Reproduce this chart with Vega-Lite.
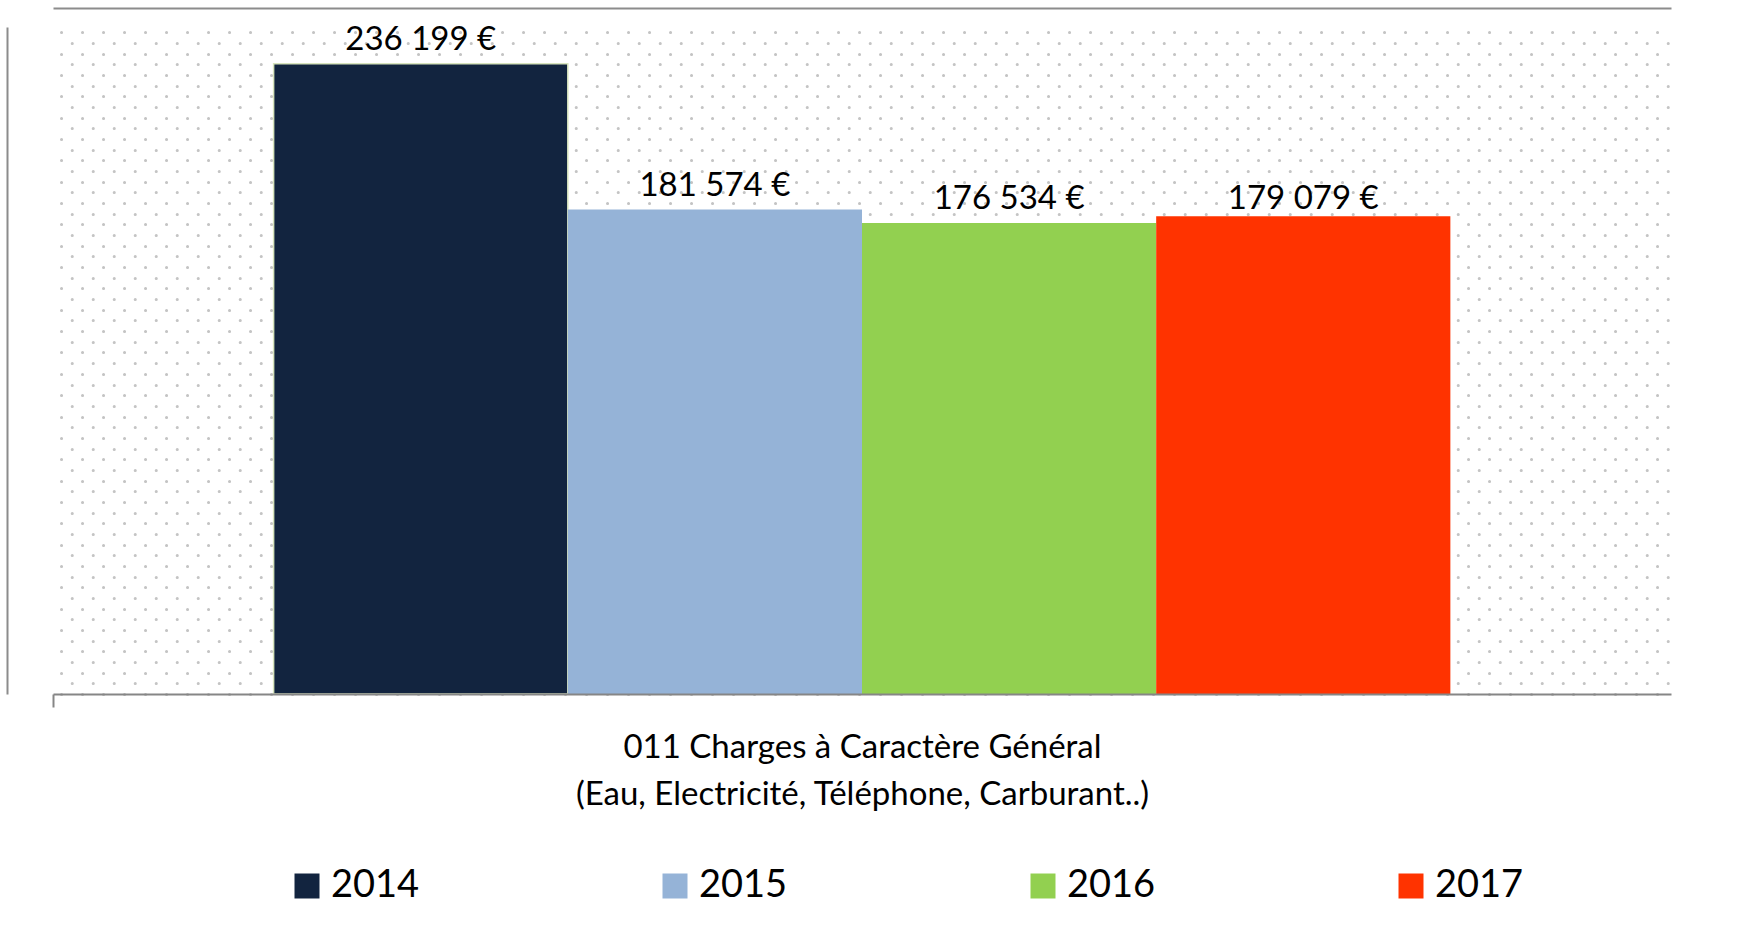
{
  "$schema": "https://vega.github.io/schema/vega-lite/v6.json",
  "width": 1618,
  "height": 667,
  "autosize": {"type": "none"},
  "padding": {"left": 53, "top": 27, "right": 71, "bottom": 243},
  "background": "white",
  "config": {
    "font": "Lato",
    "view": {"stroke": null},
    "locale": {"number": {"decimal": ",", "thousands": " ", "grouping": [3], "currency": ["", " €"]}}
  },
  "data": {
    "values": [
      {"categorie": "011 Charges à Caractère Général", "annee": "2014", "montant": 236199},
      {"categorie": "011 Charges à Caractère Général", "annee": "2015", "montant": 181574},
      {"categorie": "011 Charges à Caractère Général", "annee": "2016", "montant": 176534},
      {"categorie": "011 Charges à Caractère Général", "annee": "2017", "montant": 179079}
    ]
  },
  "layer": [
    {
      "mark": {"type": "bar", "strokeWidth": 1.5},
      "encoding": {
        "x": {
          "field": "categorie", "type": "nominal",
          "scale": {"paddingInner": 0, "paddingOuter": 0},
          "axis": {
            "orient": "bottom", "labels": false, "ticks": true, "tickSize": 13, "tickColor": "#868686", "tickWidth": 2,
            "bandPosition": 0, "domainColor": "#868686", "domainWidth": 2, "grid": false, "zindex": 1,
            "title": ["011 Charges à Caractère Général", "(Eau, Electricité, Téléphone, Carburant..)"],
            "titleFontSize": 33, "titleFontWeight": "normal", "titleColor": "black", "titleLineHeight": 47, "titlePadding": 23, "titleFont": "Lato"
          }
        },
        "xOffset": {
          "field": "annee", "type": "nominal", "sort": ["2014", "2015", "2016", "2017"],
          "scale": {"paddingInner": 0, "paddingOuter": 0.75}
        },
        "y": {
          "field": "montant", "type": "quantitative",
          "scale": {"domain": [0, 250000], "nice": false},
          "axis": {
            "orient": "left", "domain": false, "ticks": false, "labels": false, "title": null,
            "grid": true, "gridColor": "#c4c4c4", "gridWidth": 3, "gridCap": "round", "gridDash": [0.1, 20.9],
            "gridDashOffset": {"condition": {"test": "datum.value % 8000 === 0", "value": 13}, "value": 2.3},
            "values": [0,4000,8000,12000,16000,20000,24000,28000,32000,36000,40000,44000,48000,52000,56000,60000,64000,68000,72000,76000,80000,84000,88000,92000,96000,100000,104000,108000,112000,116000,120000,124000,128000,132000,136000,140000,144000,148000,152000,156000,160000,164000,168000,172000,176000,180000,184000,188000,192000,196000,200000,204000,208000,212000,216000,220000,224000,228000,232000,236000,240000,244000,248000]
          }
        },
        "color": {
          "field": "annee", "type": "nominal",
          "scale": {"domain": ["2014", "2015", "2016", "2017"], "range": ["#12243f", "#95b3d7", "#92d050", "#ff3300"]},
          "legend": {
            "orient": "none", "legendX": 235, "legendY": 840, "direction": "horizontal", "columns": 4,
            "title": null, "symbolType": "square", "symbolSize": 625, "symbolStrokeWidth": 0, "symbolOpacity": 1,
            "labelFontSize": 38, "labelOffset": 5, "columnPadding": 236, "padding": 0, "labelColor": "black", "labelFont": "Lato"
          }
        },
        "stroke": {"condition": {"test": "datum.annee === '2014'", "value": "#d7e4bd"}, "value": null},
        "opacity": {"value": 1}
      }
    },
    {
      "transform": [{"filter": "datum.annee !== '2017'"}],
      "mark": {"type": "text", "baseline": "alphabetic", "align": "center", "dy": -14, "fontSize": 33, "color": "black", "font": "Lato"},
      "encoding": {
        "x": {
          "field": "categorie", "type": "nominal",
          "scale": {"paddingInner": 0, "paddingOuter": 0},
          "axis": {"orient": "top", "offset": 19, "domain": true, "domainColor": "#8c8c8c", "domainWidth": 2, "ticks": false, "labels": false, "title": null, "grid": false}
        },
        "xOffset": {
          "field": "annee", "type": "nominal", "sort": ["2014", "2015", "2016", "2017"],
          "scale": {"paddingInner": 0, "paddingOuter": 0.75}
        },
        "y": {
          "field": "montant", "type": "quantitative",
          "scale": {"domain": [0, 250000], "nice": false},
          "axis": {"orient": "left", "offset": 46, "domain": true, "domainColor": "#8c8c8c", "domainWidth": 2, "ticks": false, "labels": false, "title": null, "grid": false}
        },
        "text": {"field": "montant", "type": "quantitative", "format": "$,.0f"}
      }
    },
    {
      "transform": [{"filter": "datum.annee === '2017'"}],
      "mark": {"type": "text", "baseline": "alphabetic", "align": "center", "dy": -7, "fontSize": 33, "color": "black", "font": "Lato"},
      "encoding": {
        "x": {"field": "categorie", "type": "nominal", "scale": {"paddingInner": 0, "paddingOuter": 0}, "axis": null},
        "xOffset": {
          "field": "annee", "type": "nominal", "sort": ["2014", "2015", "2016", "2017"],
          "scale": {"paddingInner": 0, "paddingOuter": 0.75}
        },
        "y": {"field": "montant", "type": "quantitative", "scale": {"domain": [0, 250000], "nice": false}, "axis": null},
        "text": {"field": "montant", "type": "quantitative", "format": "$,.0f"}
      }
    }
  ],
  "resolve": {"axis": {"x": "independent", "y": "independent"}}
}
